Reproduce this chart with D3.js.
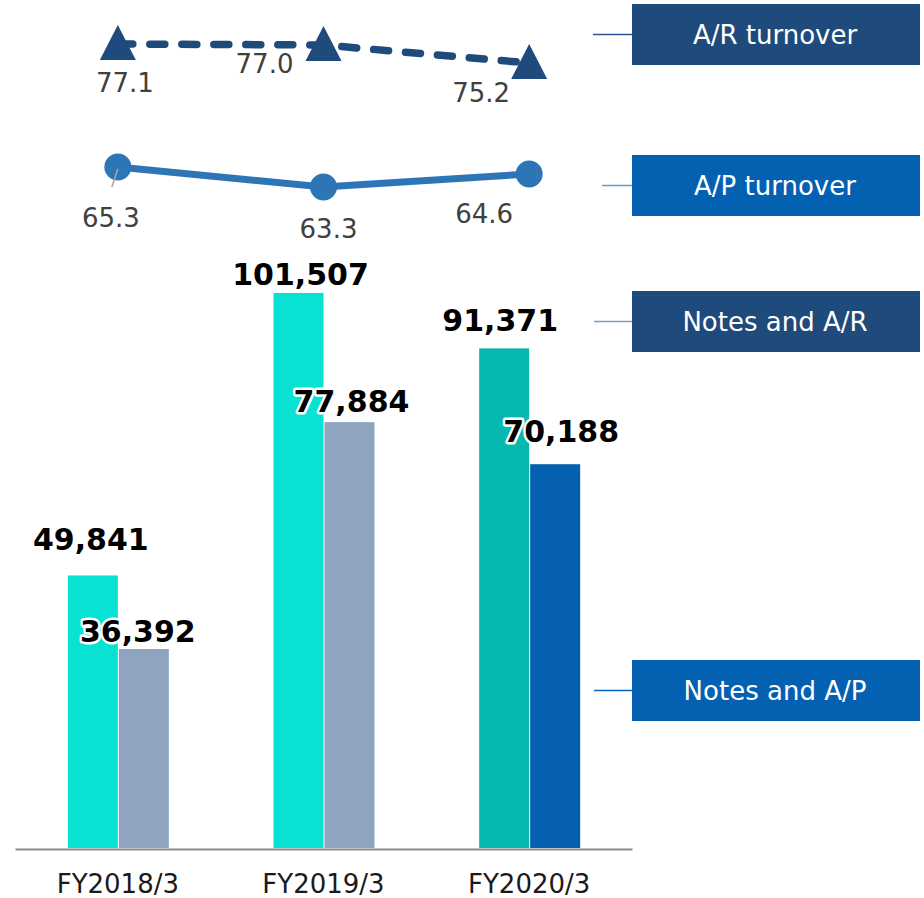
<!DOCTYPE html>
<html>
<head>
<meta charset="utf-8">
<script src="https://cdn.jsdelivr.net/npm/d3@7"></script>
<style>
  body { margin: 0; background: #fff; }
  svg text { font-family: "DejaVu Sans", Verdana, sans-serif; }
</style>
</head>
<body>
<div id="chart"></div>
<script>
// chart data
var years = ["FY2018/3", "FY2019/3", "FY2020/3"];
var notesAR = [49841, 101507, 91371];
var notesAP = [36392, 77884, 70188];
var arTurnover = [77.1, 77.0, 75.2];
var apTurnover = [65.3, 63.3, 64.6];

// colours per year (last year is highlighted)
var arColors = ["#07E2D2", "#07E2D2", "#06B9AF"];
var apColors = ["#8FA4C1", "#8FA4C1", "#0561AF"];

// label nudges
var arLabelShift = [[-2, -25], [2, -8], [-4, -17]];
var apLabelShift = [[-6, -7], [2, -10], [6, -22]];
var arTurnShift = [[7, 48], [-59, 28], [-48, 39]];
var apTurnShift = [[-7, 60], [5, 51], [-45, 49]];

var width = 924, height = 898;
var fmt = d3.format(",");

var svg = d3.select("#chart").append("svg")
  .attr("width", width)
  .attr("height", height);

// scales
var x = d3.scaleBand()
  .domain(years)
  .range([15, 632])
  .padding(0);

var y = d3.scaleLinear()
  .domain([0, 110000])
  .range([848, 848 - 110000 * 0.005468]);

var yAR = d3.scaleLinear().domain([75, 78]).range([65, 35]);
var yAP = d3.scaleLinear().domain([63, 66]).range([190, 160]);

var barW = 50;
function cx(d) { return x(d) + x.bandwidth() / 2; }

// bars
svg.append("g").selectAll("rect")
  .data(years)
  .enter().append("rect")
    .attr("x", function(d) { return cx(d) - barW; })
    .attr("y", function(d, i) { return y(notesAR[i]); })
    .attr("width", barW)
    .attr("height", function(d, i) { return y(0) - y(notesAR[i]); })
    .style("fill", function(d, i) { return arColors[i]; });

svg.append("g").selectAll("rect")
  .data(years)
  .enter().append("rect")
    .attr("x", function(d) { return cx(d) + 1; })
    .attr("y", function(d, i) { return y(notesAP[i]); })
    .attr("width", barW)
    .attr("height", function(d, i) { return y(0) - y(notesAP[i]); })
    .style("fill", function(d, i) { return apColors[i]; });

// baseline
var xAxis = d3.axisBottom(x).tickSize(0).tickPadding(26);
var axisG = svg.append("g")
  .attr("transform", "translate(0," + (y(0) + 1) + ")")
  .call(xAxis);
axisG.select(".domain").style("stroke", "#8C8C8C").style("stroke-width", 2);
axisG.selectAll("text")
  .style("font-size", "26px")
  .style("fill", "#1a1a1a")
  .style("font-family", "'DejaVu Sans', Verdana, sans-serif");

// bar value labels with a white glow
function barLabels(values, shift, offset) {
  svg.append("g").selectAll("text")
    .data(years)
    .enter().append("text")
      .attr("x", function(d, i) { return cx(d) + offset + shift[i][0]; })
      .attr("y", function(d, i) { return y(values[i]) + shift[i][1]; })
      .attr("text-anchor", "middle")
      .style("font-size", "30px")
      .style("font-weight", "bold")
      .style("fill", "#000")
      .style("stroke", "#fff")
      .style("stroke-width", 5)
      .style("stroke-linejoin", "round")
      .style("paint-order", "stroke")
      .text(function(d, i) { return fmt(values[i]); });
}
barLabels(notesAR, arLabelShift, -barW / 2);
barLabels(notesAP, apLabelShift, barW / 2 + 1);

// A/R turnover: dashed line with triangles
var lineAR = d3.line()
  .x(function(d, i) { return cx(years[i]); })
  .y(function(d) { return yAR(d); });

svg.append("path")
  .datum(arTurnover)
  .attr("d", lineAR)
  .style("fill", "none")
  .style("stroke", "#1F4A7C")
  .style("stroke-width", 7.5)
  .style("stroke-linecap", "round")
  .style("stroke-dasharray", "15,17");

svg.append("g").selectAll("path")
  .data(arTurnover)
  .enter().append("path")
    .attr("transform", function(d, i) { return "translate(" + cx(years[i]) + "," + yAR(d) + ")"; })
    .attr("d", "M0,-19L18,16L-18,16Z")
    .style("fill", "#1F4A7C");

svg.append("g").selectAll("text")
  .data(arTurnover)
  .enter().append("text")
    .attr("x", function(d, i) { return cx(years[i]) + arTurnShift[i][0]; })
    .attr("y", function(d, i) { return yAR(d) + arTurnShift[i][1]; })
    .attr("text-anchor", "middle")
    .style("font-size", "26px")
    .style("fill", "#404040")
    .text(function(d) { return d.toFixed(1); });

// A/P turnover: solid line with circles
var lineAP = d3.line()
  .x(function(d, i) { return cx(years[i]); })
  .y(function(d) { return yAP(d); });

svg.append("path")
  .datum(apTurnover)
  .attr("d", lineAP)
  .style("fill", "none")
  .style("stroke", "#2E75B6")
  .style("stroke-width", 7);

svg.append("g").selectAll("circle")
  .data(apTurnover)
  .enter().append("circle")
    .attr("cx", function(d, i) { return cx(years[i]); })
    .attr("cy", function(d) { return yAP(d); })
    .attr("r", 13.5)
    .style("fill", "#2E75B6");

// small leader line under the first point
svg.append("line")
  .attr("x1", cx(years[0]))
  .attr("y1", yAP(apTurnover[0]) + 2)
  .attr("x2", cx(years[0]) - 6)
  .attr("y2", yAP(apTurnover[0]) + 20)
  .style("stroke", "#A6A6A6")
  .style("stroke-width", 1.5);

svg.append("g").selectAll("text")
  .data(apTurnover)
  .enter().append("text")
    .attr("x", function(d, i) { return cx(years[i]) + apTurnShift[i][0]; })
    .attr("y", function(d, i) { return yAP(d) + apTurnShift[i][1]; })
    .attr("text-anchor", "middle")
    .style("font-size", "26px")
    .style("fill", "#404040")
    .text(function(d) { return d.toFixed(1); });

// legend boxes with leader lines
var legendNames = ["A/R turnover", "A/P turnover", "Notes and A/R", "Notes and A/P"];
var legendTop = [4, 155, 291, 660];
var legendFill = ["#1F4A7C", "#0461B1", "#1F4A7C", "#0461B1"];
var legendLine = ["#2F5597", "#5B9BD5", "#7F9CC0", "#0563C1"];
var legendLineStart = [593, 602, 594, 594];

var leg = svg.append("g").selectAll("g")
  .data(legendNames)
  .enter().append("g")
    .attr("transform", function(d, i) { return "translate(0," + legendTop[i] + ")"; });

leg.append("line")
  .attr("x1", function(d, i) { return legendLineStart[i]; })
  .attr("x2", 632)
  .attr("y1", 30.5)
  .attr("y2", 30.5)
  .style("stroke", function(d, i) { return legendLine[i]; })
  .style("stroke-width", 1.5);

leg.append("rect")
  .attr("x", 632)
  .attr("width", 288)
  .attr("height", 61)
  .style("fill", function(d, i) { return legendFill[i]; });

leg.append("text")
  .attr("x", 775)
  .attr("y", 31)
  .attr("dy", "0.36em")
  .attr("text-anchor", "middle")
  .style("font-size", "26px")
  .style("fill", "#fff")
  .text(function(d) { return d; });
</script>
</body>
</html>
